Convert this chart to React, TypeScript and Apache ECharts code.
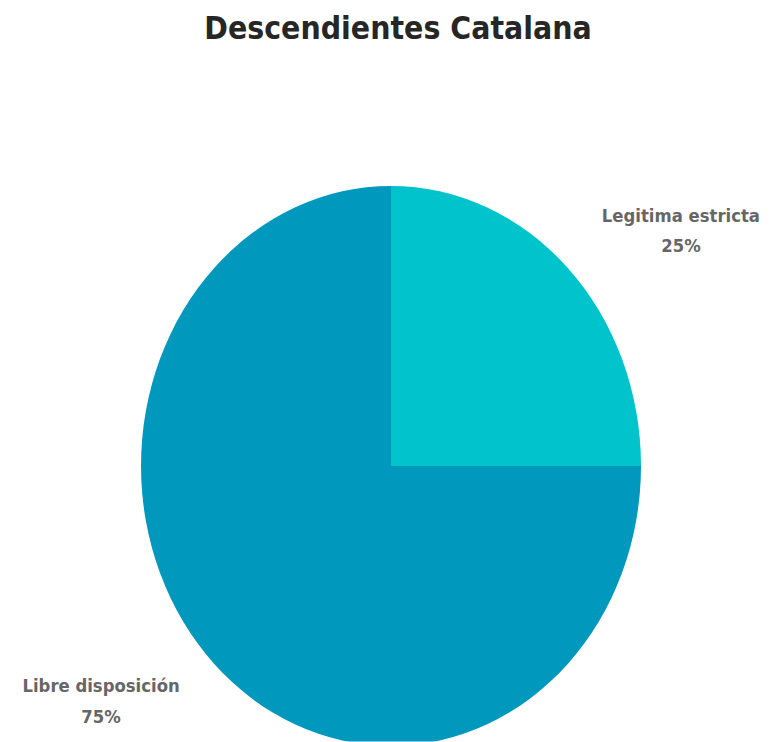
import React, { useEffect, useRef } from "react";
import * as echarts from "echarts";

const TITLE = "Descendientes Catalana";
const categories = ["Legitima estricta", "Libre disposición"];
const values = [25, 75];
const colors = ["#00C3CB", "#0098BC"];

const SCALE_Y = 1.12;
const W = 774;
const H = Math.round(742 / SCALE_Y);

export default function App() {
  const ref = useRef<HTMLDivElement>(null);
  useEffect(() => {
    if (!ref.current) return;
    const chart = echarts.init(ref.current, null, { renderer: "svg" });
    const cx = 391;
    const cy = 416;
    const total = values.reduce((a, b) => a + b, 0);
    chart.setOption({
      animation: false,
      backgroundColor: "#ffffff",
      title: {
        text: TITLE,
        left: 393,
        textAlign: "center",
        top: 5,
        textStyle: {
          fontFamily: "DejaVu Sans",
          fontSize: 28.5,
          fontWeight: "bold",
          color: "#262626",
        },
      },
      series: [
        {
          type: "pie",
          center: [cx, cy],
          radius: 250,
          startAngle: 90,
          clockwise: true,
          data: categories.map((name, i) => ({
            name,
            value: values[i],
            itemStyle: { color: colors[i] },
          })),
          label: {
            show: true,
            position: "outside",
            formatter: "{b}\n{d}%",
            fontFamily: "DejaVu Sans",
            fontSize: 16.5,
            fontWeight: "bold",
            lineHeight: 27,
            color: "#666666",
            align: "center",
            overflow: "none",
            width: 220,
            edgeDistance: 0,
          },
          labelLine: { show: false },
          labelLayout: (params: any) => {
            const i = params.dataIndex;
            let before = 0;
            for (let k = 0; k < i; k++) before += values[k];
            const mid = 90 - ((before + values[i] / 2) / total) * 360;
            const rad = (mid * Math.PI) / 180;
            return {
              x: cx + 410 * Math.cos(rad),
              y: cy - 297 * Math.sin(rad),
              align: "center",
              verticalAlign: "middle",
            };
          },
          emphasis: { disabled: true },
        },
      ],
    });
    return () => chart.dispose();
  }, []);
  return (
    <div
      ref={ref}
      style={{
        position: "absolute",
        left: 0,
        top: 0,
        width: W,
        height: H,
        transform: `scaleY(${SCALE_Y})`,
        transformOrigin: "0 0",
      }}
    />
  );
}
